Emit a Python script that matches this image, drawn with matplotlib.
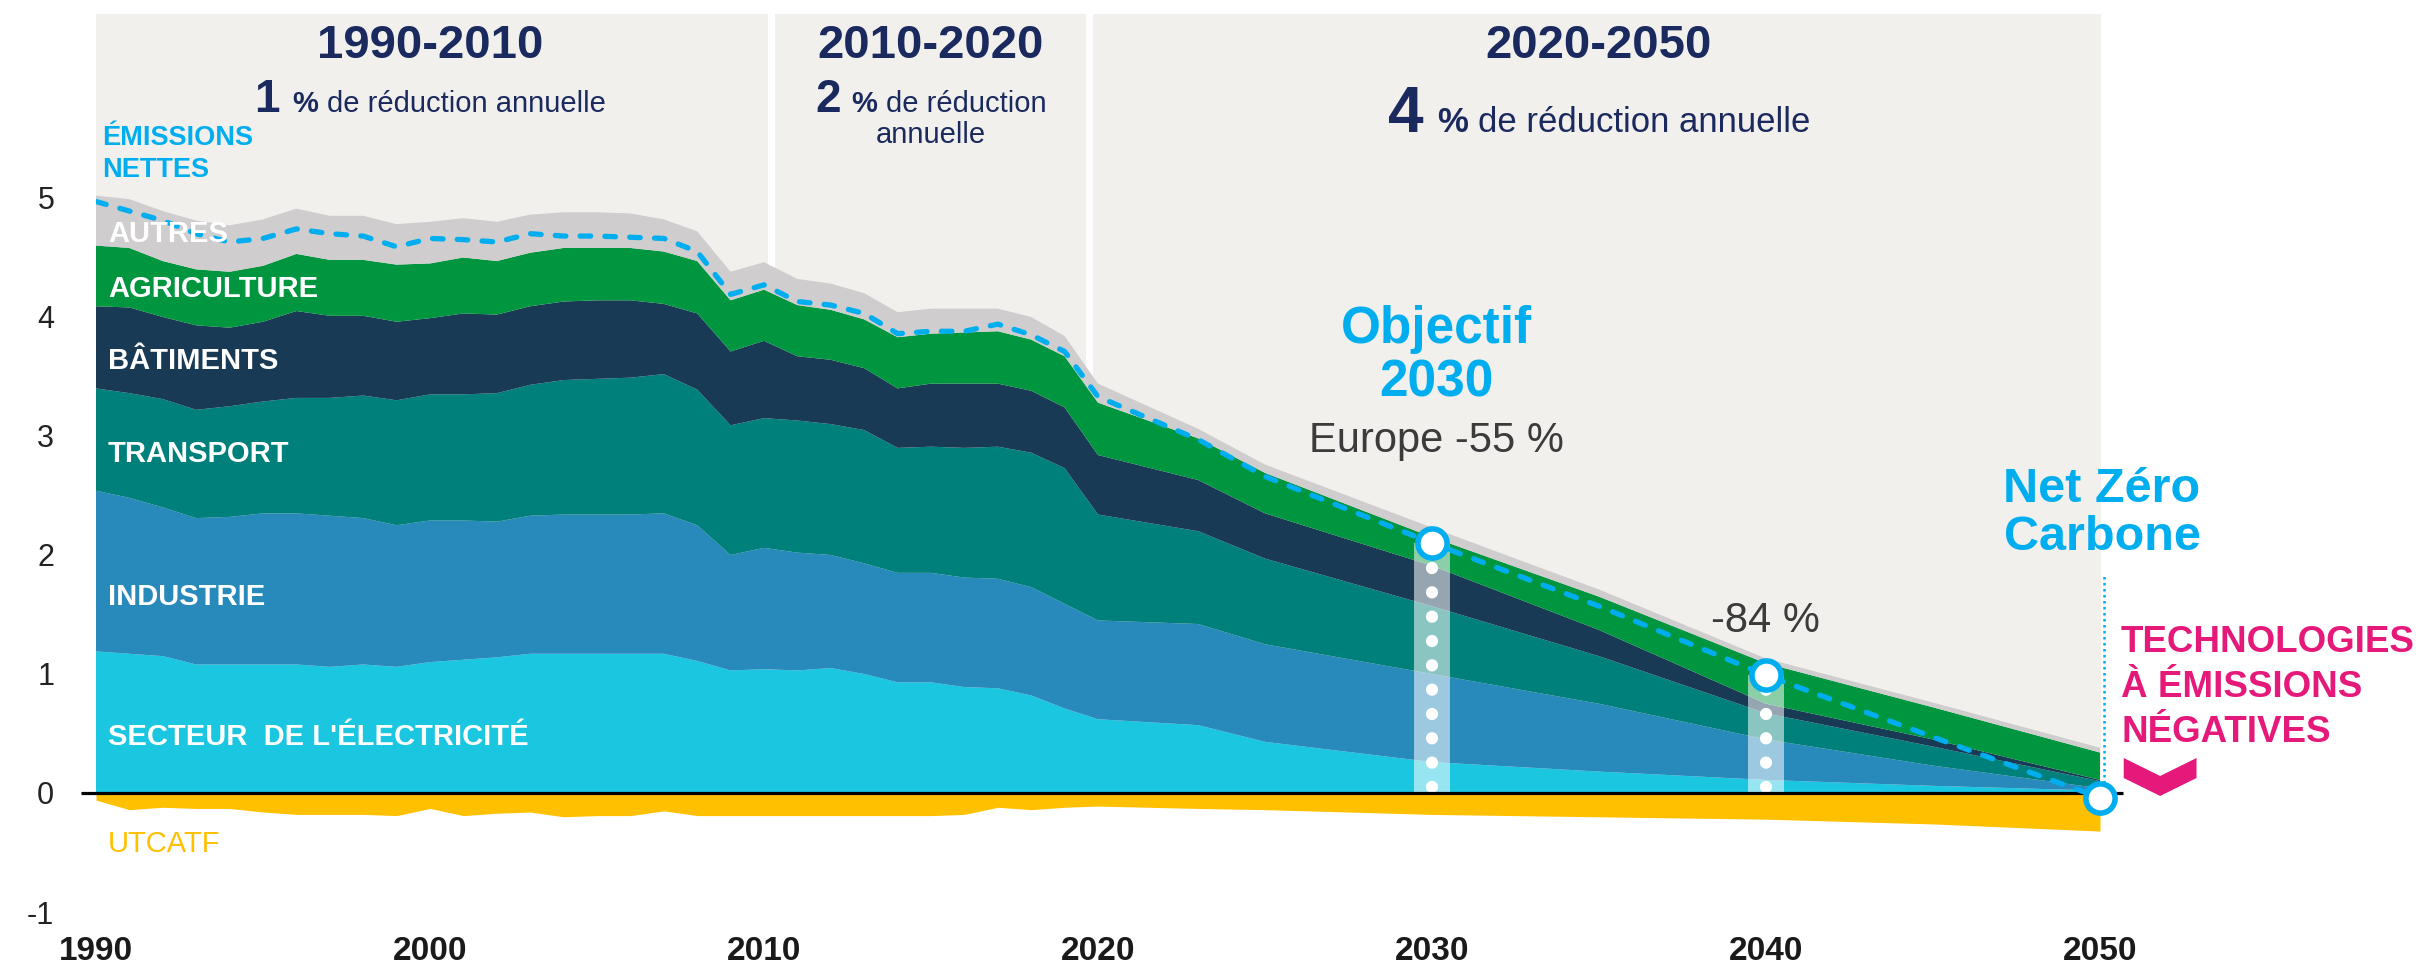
import matplotlib
matplotlib.use("Agg")
import matplotlib.pyplot as plt
from matplotlib.patches import Polygon
from matplotlib.transforms import offset_copy

plt.rcParams["font.family"] = ["Liberation Sans", "DejaVu Sans"]

# data (Gt CO2e)
years = list(range(1990, 2021)) + [2023, 2025, 2030, 2035, 2040, 2045, 2050]

electricity = [1.19, 1.17, 1.15, 1.08, 1.08, 1.08, 1.08, 1.06, 1.08, 1.06,
               1.10, 1.12, 1.14, 1.17, 1.17, 1.17, 1.17, 1.17, 1.11, 1.03,
               1.04, 1.03, 1.05, 1.00, 0.93, 0.93, 0.89, 0.88, 0.82, 0.71,
               0.62, 0.57, 0.43, 0.26, 0.18, 0.11, 0.06, 0.02]
industry = [1.35, 1.31, 1.25, 1.23, 1.24, 1.27, 1.27, 1.27, 1.23, 1.19,
            1.19, 1.17, 1.14, 1.16, 1.17, 1.17, 1.17, 1.18, 1.14, 0.97,
            1.02, 0.99, 0.95, 0.93, 0.92, 0.92, 0.92, 0.92, 0.91, 0.88,
            0.83, 0.85, 0.82, 0.74, 0.57, 0.34, 0.17, 0.02]
transport = [0.86, 0.88, 0.91, 0.91, 0.93, 0.94, 0.97, 0.99, 1.03, 1.05,
             1.06, 1.06, 1.08, 1.10, 1.13, 1.14, 1.15, 1.17, 1.14, 1.09,
             1.09, 1.11, 1.10, 1.12, 1.05, 1.06, 1.09, 1.11, 1.13, 1.14,
             0.89, 0.78, 0.72, 0.57, 0.40, 0.22, 0.16, 0.06]
buildings = [0.69, 0.72, 0.69, 0.71, 0.66, 0.67, 0.73, 0.69, 0.67, 0.66,
             0.64, 0.68, 0.66, 0.66, 0.66, 0.66, 0.65, 0.59, 0.64, 0.62,
             0.65, 0.54, 0.54, 0.52, 0.50, 0.53, 0.54, 0.53, 0.52, 0.51,
             0.50, 0.43, 0.38, 0.34, 0.22, 0.08, 0.06, 0.01]
agriculture = [0.51, 0.50, 0.47, 0.47, 0.47, 0.47, 0.48, 0.47, 0.47, 0.48,
               0.46, 0.47, 0.45, 0.45, 0.45, 0.44, 0.44, 0.44, 0.44, 0.43,
               0.43, 0.43, 0.42, 0.41, 0.43, 0.42, 0.43, 0.44, 0.43, 0.43,
               0.44, 0.35, 0.34, 0.24, 0.28, 0.34, 0.27, 0.23]
other = [0.42, 0.41, 0.42, 0.41, 0.39, 0.39, 0.38, 0.37, 0.37, 0.34,
         0.35, 0.33, 0.33, 0.32, 0.30, 0.30, 0.29, 0.27, 0.25, 0.24,
         0.23, 0.22, 0.22, 0.22, 0.21, 0.21, 0.20, 0.19, 0.19, 0.17,
         0.16, 0.08, 0.07, 0.08, 0.06, 0.04, 0.04, 0.04]
lulucf = [-0.06, -0.14, -0.12, -0.13, -0.13, -0.16, -0.18, -0.18, -0.18, -0.19,
          -0.13, -0.19, -0.17, -0.16, -0.20, -0.19, -0.19, -0.15, -0.19, -0.19,
          -0.19, -0.19, -0.19, -0.19, -0.19, -0.19, -0.18, -0.12, -0.14, -0.12,
          -0.11, -0.13, -0.14, -0.18, -0.20, -0.22, -0.26, -0.32]
net = [4.97, 4.89, 4.81, 4.70, 4.63, 4.66, 4.74, 4.70, 4.68, 4.59,
       4.66, 4.65, 4.63, 4.70, 4.68, 4.68, 4.67, 4.66, 4.55, 4.19,
       4.27, 4.13, 4.10, 4.03, 3.86, 3.88, 3.88, 3.94, 3.85, 3.71,
       3.33, 2.97, 2.66, 2.10, 1.57, 0.99, 0.47, -0.04]

sector_labels = ["AUTRES", "AGRICULTURE", "BÂTIMENTS", "TRANSPORT", "INDUSTRIE",
                 "SECTEUR  DE L'ÉLECTRICITÉ"]
sector_label_y = [4.63, 4.17, 3.56, 2.78, 1.58, 0.40]

target_years = [2030, 2040, 2050]
xticks = [1990, 2000, 2010, 2020, 2030, 2040, 2050]
yticks = [-1, 0, 1, 2, 3, 4, 5]
panels = [(1990, 2010.12), (2010.33, 2019.63), (2019.85, 2050.15)]

# colours
PANEL = "#f1f0ed"
NAVY = "#1b2a5e"
CYAN = "#00aeef"
MAGENTA = "#e5197a"
GREY_TXT = "#3b3b3b"
stack_colors = ["#1bc6e0", "#2889bb", "#00807a", "#183a55", "#00963f", "#cfcdcd"]
YELLOW = "#ffc000"

fig = plt.figure(figsize=(24.25, 9.68), dpi=100)
ax = fig.add_axes([96 / 2425, 56 / 968, 2004 / 2425, 898 / 968])
top = 6.546
ax.set_xlim(1990, 2050)
ax.set_ylim(-1.0, top)
for s in ax.spines.values():
    s.set_visible(False)
ax.set_facecolor("none")

# background panels
for x0, x1 in panels:
    ax.fill_between([x0, x1], 0, top, color=PANEL, lw=0, zorder=0)

# stacked sectors
ax.stackplot(years, electricity, industry, transport, buildings, agriculture, other,
             colors=stack_colors, lw=0, zorder=1)
ax.fill_between(years, lulucf, 0, color=YELLOW, lw=0, zorder=1)

# zero line
ax.plot([1989.55, 2050.7], [0, 0], color="black", lw=2.3, clip_on=False,
        solid_capstyle="butt", zorder=4)

# target markers
for yr in target_years[:2]:
    v = net[years.index(yr)]
    ax.bar(yr, v, width=1.08, color="white", alpha=0.55, lw=0, zorder=3)
    ax.plot([yr, yr], [0.05, v], color="white", lw=8.8, dashes=(0.01, 1.98),
            dash_capstyle="round", zorder=3.5)

ax.plot([2050.12, 2050.12], [0.08, 1.82], color=CYAN, lw=1.8, dashes=(1, 1.4),
        clip_on=False, zorder=5)

ax.plot(years, net, color=CYAN, lw=3.8, dashes=(2.0, 2.7), dash_capstyle="round",
        zorder=5)
ax.plot(target_years, [net[years.index(y)] for y in target_years], "o", ms=21,
        mfc="white", mec=CYAN, mew=4, clip_on=False, zorder=6)

# ticks
ax.set_xticks(xticks)
ax.set_xticklabels([str(x) for x in xticks], fontsize=24, fontweight="bold",
                   color="#1a1a1a")
ax.set_yticks(yticks)
ax.set_yticklabels([str(y) for y in yticks], fontsize=22, color="#222222")
ax.tick_params(axis="both", length=0)
ax.tick_params(axis="x", pad=17)
ax.tick_params(axis="y", pad=30)

renderer = fig.canvas.get_renderer()


def rich_line(x, y, parts, color):
    # parts: (text, size, weight, gap after in px), centred on x
    texts, widths = [], []
    for s, size, weight, gap in parts:
        t = ax.text(x, y, s, fontsize=size, fontweight=weight, color=color,
                    va="baseline", ha="left", zorder=7)
        texts.append(t)
        widths.append(t.get_window_extent(renderer).width)
    total = sum(widths) + sum(p[3] for p in parts[:-1])
    start = -total / 2
    for t, w, p in zip(texts, widths, parts):
        t.set_transform(offset_copy(ax.transData, fig=fig, x=start, y=0, units="dots"))
        start += w + p[3]


# period headers
ax.text(2000.0, 6.176, "1990-2010", fontsize=34, fontweight="bold", color=NAVY,
        ha="center", va="baseline")
rich_line(2000.0, 5.723, [("1", 33, "bold", 12), ("%", 21, "bold", 9),
                          ("de réduction annuelle", 21, "normal", 0)], NAVY)

ax.text(2015.0, 6.176, "2010-2020", fontsize=34, fontweight="bold", color=NAVY,
        ha="center", va="baseline")
rich_line(2015.0, 5.723, [("2", 33, "bold", 10), ("%", 21, "bold", 9),
                          ("de réduction", 21, "normal", 0)], NAVY)
ax.text(2015.0, 5.462, "annuelle", fontsize=21, color=NAVY, ha="center", va="baseline")

ax.text(2035.0, 6.176, "2020-2050", fontsize=34, fontweight="bold", color=NAVY,
        ha="center", va="baseline")
rich_line(2035.0, 5.555, [("4", 46, "bold", 14), ("%", 25, "bold", 10),
                          ("de réduction annuelle", 25, "normal", 0)], NAVY)

# sector labels
ax.text(1990.18, 5.445, "ÉMISSIONS", fontsize=19.5, fontweight="bold", color=CYAN,
        va="baseline")
ax.text(1990.18, 5.176, "NETTES", fontsize=19.5, fontweight="bold", color=CYAN,
        va="baseline")
for lab, y in zip(sector_labels, sector_label_y):
    ax.text(1990.36, y, lab, fontsize=21, fontweight="bold", color="white",
            va="baseline", zorder=7)
ax.text(1990.36, -0.50, "UTCATF", fontsize=21, color=YELLOW, va="baseline")

# annotations
ax.text(2030.12, 3.78, "Objectif", fontsize=37, fontweight="bold", color=CYAN,
        ha="center", va="baseline")
ax.text(2030.12, 3.33, "2030", fontsize=37, fontweight="bold", color=CYAN,
        ha="center", va="baseline")
ax.text(2030.12, 2.866, "Europe -55 %", fontsize=30, color=GREY_TXT,
        ha="center", va="baseline")
ax.text(2039.97, 1.353, "-84 %", fontsize=30, color=GREY_TXT, ha="center",
        va="baseline")
ax.text(2050.06, 2.445, "Net Zéro", fontsize=35, fontweight="bold", color=CYAN,
        ha="center", va="baseline")
ax.text(2050.06, 2.04, "Carbone", fontsize=35, fontweight="bold", color=CYAN,
        ha="center", va="baseline")
for lab, y in zip(["TECHNOLOGIES", "À ÉMISSIONS", "NÉGATIVES"], [1.185, 0.807, 0.429]):
    ax.text(2050.63, y, lab, fontsize=26.5, fontweight="bold", color=MAGENTA,
            va="baseline")

# chevron pointing down
cx, cy, hw = 2051.8, 0.294, 1.09
chevron = Polygon([(cx - hw, cy), (cx, cy - 0.151), (cx + hw, cy),
                   (cx + hw, cy - 0.168), (cx, cy - 0.319), (cx - hw, cy - 0.168)],
                  closed=True, color=MAGENTA, lw=0, clip_on=False, zorder=6)
ax.add_patch(chevron)

fig.savefig("out.png", dpi=100)
plt.close(fig)
